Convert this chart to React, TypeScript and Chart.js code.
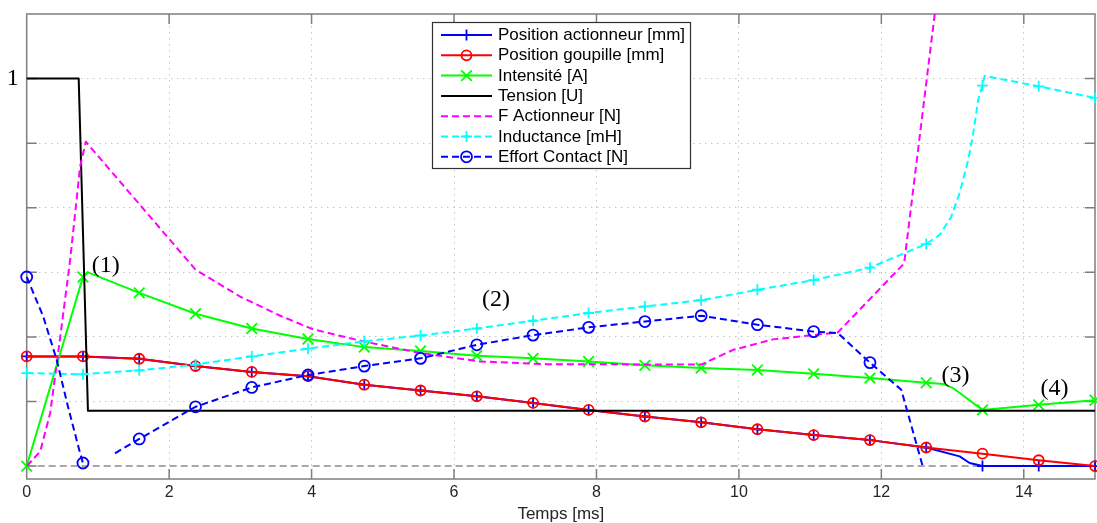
import React, { useEffect, useRef } from 'react';
import { Chart, registerables } from 'chart.js';

Chart.register(...registerables);

// ---------- data (time in ms, values normalised: label "1" = top grid line) ----------
const markerTimes = [0, 0.79, 1.58, 2.37, 3.16, 3.95, 4.74, 5.53, 6.32, 7.11, 7.89, 8.68, 9.47, 10.26, 11.05, 11.84, 12.63, 13.42, 14.21, 15];

const xTickValues = [0, 2, 4, 6, 8, 10, 12, 14];
const yTickValues = [0, 1 / 6, 2 / 6, 3 / 6, 4 / 6, 5 / 6, 1];
const yLabelValue = 1;
const yLabelText = '1';
const xTitle = 'Temps [ms]';

const posActT = [0, 0.79, 1.58, 2.37, 3.16, 3.95, 4.74, 5.53, 6.32, 7.11, 7.89, 8.68, 9.47, 10.26, 11.05, 11.84, 12.63, 13.1, 13.24, 13.42, 14.21, 15];
const posActV = [0.283, 0.283, 0.277, 0.258, 0.243, 0.232, 0.21, 0.195, 0.18, 0.163, 0.145, 0.128, 0.113, 0.095, 0.08, 0.067, 0.048, 0.025, 0.008, 0, 0, 0];

const posGoupT = [0, 0.79, 1.58, 2.37, 3.16, 3.95, 4.74, 5.53, 6.32, 7.11, 7.89, 8.68, 9.47, 10.26, 11.05, 11.84, 12.63, 13.42, 14.21, 15];
const posGoupV = [0.283, 0.283, 0.277, 0.258, 0.243, 0.232, 0.21, 0.195, 0.18, 0.163, 0.145, 0.128, 0.113, 0.095, 0.08, 0.067, 0.048, 0.032, 0.015, 0];

const intensiteT = [0, 0.79, 0.86, 1.58, 2.37, 3.16, 3.95, 4.74, 5.53, 6.32, 7.11, 7.89, 8.68, 9.47, 10.26, 11.05, 11.84, 12.63, 12.87, 13.0, 13.2, 13.42, 14.21, 15];
const intensiteV = [0, 0.488, 0.5, 0.447, 0.393, 0.355, 0.328, 0.307, 0.297, 0.285, 0.278, 0.27, 0.26, 0.253, 0.248, 0.238, 0.227, 0.215, 0.212, 0.202, 0.175, 0.145, 0.158, 0.17];

const tensionT = [0, 0.73, 0.86, 15];
const tensionV = [1, 1, 0.143, 0.143];

const fActT = [0, 0.19, 0.33, 0.43, 0.61, 0.75, 0.83, 2.37, 3.0, 3.56, 4.02, 4.72, 5.52, 6.36, 7.3, 9.47, 9.92, 10.48, 11.04, 11.39, 12.32, 12.85];
const fActV = [0, 0.038, 0.137, 0.275, 0.532, 0.773, 0.837, 0.507, 0.437, 0.388, 0.353, 0.322, 0.292, 0.27, 0.263, 0.262, 0.3, 0.327, 0.338, 0.345, 0.523, 1.317];

const inductT = [0, 0.79, 1.58, 2.37, 3.16, 3.95, 4.74, 5.53, 6.32, 7.11, 7.89, 8.68, 9.47, 10.26, 11.05, 11.84, 12.63, 12.82, 12.98, 13.1, 13.22, 13.29, 13.36, 13.42, 13.45, 14.21, 15];
const inductV = [0.24, 0.237, 0.247, 0.262, 0.283, 0.303, 0.322, 0.337, 0.355, 0.375, 0.395, 0.412, 0.428, 0.455, 0.48, 0.512, 0.573, 0.597, 0.643, 0.705, 0.79, 0.858, 0.945, 0.982, 1.007, 0.98, 0.95];

const effortT = [0, 0.23, 0.42, 0.58, 0.75, 0.79, 1.0, 1.24, 1.58, 2.37, 3.16, 3.95, 4.74, 5.53, 6.32, 7.11, 7.89, 8.68, 9.47, 10.26, 11.05, 11.39, 11.84, 12.28, 12.58];
const effortV = [0.488, 0.387, 0.275, 0.153, 0.033, 0.008, null, 0.033, 0.07, 0.153, 0.203, 0.235, 0.258, 0.278, 0.313, 0.338, 0.358, 0.373, 0.388, 0.365, 0.347, 0.343, 0.267, 0.197, 0];

const zeroT = [0, 15];
const zeroV = [0, 0];

const seriesLabels = ['Position actionneur [mm]', 'Position goupille [mm]', 'Intensité [A]', 'Tension [U]', 'F Actionneur [N]', 'Inductance [mH]', 'Effort Contact [N]'];

const annotTexts = ['(1)', '(2)', '(3)', '(4)'];
const annotT = [1.11, 6.59, 13.04, 14.43];
const annotV = [0.517, 0.43, 0.233, 0.2];

// ---------- helpers ----------
const SANS = "'Liberation Sans', Arial, Helvetica, sans-serif";
const SERIF = "'Liberation Serif', 'Times New Roman', Times, serif";

function pts(t: number[], v: (number | null)[]) {
  return t.map((x, i) => ({ x, y: v[i] }));
}

type Style = {
  color: string;
  dash: number[];
  marker: 'cross' | 'crossRot' | 'circle' | null;
  r: number;
};

const styles: Style[] = [
  { color: '#0000ff', dash: [], marker: 'cross', r: 5.5 },
  { color: '#ff0000', dash: [], marker: 'circle', r: 5 },
  { color: '#00ff00', dash: [], marker: 'crossRot', r: 7.5 },
  { color: '#000000', dash: [], marker: null, r: 0 },
  { color: '#ff00ff', dash: [7, 4], marker: null, r: 0 },
  { color: '#00ffff', dash: [7, 4], marker: 'cross', r: 5.5 },
  { color: '#0000ff', dash: [7, 4], marker: 'circle', r: 5.5 },
];

const seriesData = [
  pts(posActT, posActV),
  pts(posGoupT, posGoupV),
  pts(intensiteT, intensiteV),
  pts(tensionT, tensionV),
  pts(fActT, fActV),
  pts(inductT, inductV),
  pts(effortT, effortV),
];

function drawMarker(ctx: CanvasRenderingContext2D, s: Style, x: number, y: number) {
  if (!s.marker) return;
  ctx.save();
  ctx.setLineDash([]);
  ctx.strokeStyle = s.color;
  ctx.lineWidth = 1.8;
  ctx.beginPath();
  if (s.marker === 'cross') {
    ctx.moveTo(x - s.r, y);
    ctx.lineTo(x + s.r, y);
    ctx.moveTo(x, y - s.r);
    ctx.lineTo(x, y + s.r);
  } else if (s.marker === 'crossRot') {
    const d = s.r * Math.SQRT1_2;
    ctx.moveTo(x - d, y - d);
    ctx.lineTo(x + d, y + d);
    ctx.moveTo(x - d, y + d);
    ctx.lineTo(x + d, y - d);
  } else {
    ctx.arc(x, y, s.r, 0, Math.PI * 2);
  }
  ctx.stroke();
  ctx.restore();
}

const framePlugin = {
  id: 'matlabFrame',
  beforeDatasetsDraw(chart: any) {
    const { ctx, chartArea: a, scales } = chart;
    ctx.save();
    ctx.strokeStyle = '#7f7f7f';
    ctx.lineWidth = 1.5;
    ctx.setLineDash([]);
    ctx.strokeRect(a.left, a.top, a.right - a.left, a.bottom - a.top);
    ctx.beginPath();
    for (const v of xTickValues) {
      if (v === 0) continue;
      const px = scales.x.getPixelForValue(v);
      ctx.moveTo(px, a.bottom);
      ctx.lineTo(px, a.bottom - 10);
      ctx.moveTo(px, a.top);
      ctx.lineTo(px, a.top + 10);
    }
    for (const v of yTickValues) {
      const py = scales.y.getPixelForValue(v);
      ctx.moveTo(a.left, py);
      ctx.lineTo(a.left + 10, py);
      ctx.moveTo(a.right, py);
      ctx.lineTo(a.right - 10, py);
    }
    ctx.stroke();
    ctx.restore();
  },
};

const annotationPlugin = {
  id: 'annotTexts',
  afterDatasetsDraw(chart: any) {
    const { ctx, scales } = chart;
    ctx.save();
    ctx.fillStyle = '#000';
    ctx.font = `24px ${SERIF}`;
    ctx.textAlign = 'center';
    ctx.textBaseline = 'middle';
    annotTexts.forEach((t, i) => {
      ctx.fillText(t, scales.x.getPixelForValue(annotT[i]), scales.y.getPixelForValue(annotV[i]));
    });
    ctx.restore();
  },
};

const legendPlugin = {
  id: 'boxLegend',
  afterDraw(chart: any) {
    const ctx: CanvasRenderingContext2D = chart.ctx;
    const left = 432, top = 22, w = 258, h = 146;
    ctx.save();
    ctx.fillStyle = '#ffffff';
    ctx.fillRect(left, top, w, h);
    ctx.strokeStyle = '#303030';
    ctx.lineWidth = 1.2;
    ctx.setLineDash([]);
    ctx.strokeRect(left + 0.5, top + 0.5, w, h);
    ctx.font = `17px ${SANS}`;
    ctx.textAlign = 'left';
    ctx.textBaseline = 'middle';
    seriesLabels.forEach((label, i) => {
      const s = styles[i];
      const y = 35 + i * 20.3;
      ctx.save();
      ctx.strokeStyle = s.color;
      ctx.lineWidth = 2;
      ctx.setLineDash(s.dash);
      ctx.beginPath();
      ctx.moveTo(441, y);
      ctx.lineTo(492, y);
      ctx.stroke();
      ctx.restore();
      drawMarker(ctx, s, 466.5, y);
      ctx.fillStyle = '#000';
      ctx.fillText(label, 498, y + 0.5);
    });
    ctx.restore();
  },
};

function zeroScalePadding(s: any) {
  s.paddingTop = 0;
  s.paddingBottom = 0;
  s.paddingLeft = 0;
  s.paddingRight = 0;
}

export default function App() {
  const ref = useRef<HTMLCanvasElement>(null);

  useEffect(() => {
    document.body.style.margin = '0';
    const gridColor = (c: any) => (c.tick && Math.abs(c.tick.value) < 1e-9 ? 'rgba(0,0,0,0)' : '#c4c4c4');

    const datasets: any[] = seriesData.map((data, i) => {
      const s = styles[i];
      return {
        label: seriesLabels[i],
        data,
        borderColor: s.color,
        backgroundColor: s.color,
        borderWidth: 2,
        borderDash: s.dash,
        borderJoinStyle: 'round',
        fill: false,
        tension: 0,
        spanGaps: false,
        order: 10 - i,
        clip: i === 4 ? { left: 0, top: 0, right: 0, bottom: 0 } : false,
        pointStyle: s.marker === 'crossRot' ? 'crossRot' : s.marker === 'cross' ? 'cross' : 'circle',
        pointBorderColor: s.color,
        pointBackgroundColor: 'rgba(0,0,0,0)',
        pointBorderWidth: 1.8,
        pointRadius: (c: any) =>
          s.marker && c.raw && markerTimes.includes(c.raw.x) && c.raw.y !== null ? s.r : 0,
        pointHoverRadius: 0,
      };
    });
    datasets.push({
      label: 'zero',
      data: pts(zeroT, zeroV),
      borderColor: '#8c8c8c',
      borderWidth: 1.5,
      borderDash: [7, 4],
      pointRadius: 0,
      order: 100,
      clip: false,
    });

    const chart = new Chart(ref.current as HTMLCanvasElement, {
      type: 'line',
      data: { datasets },
      options: {
        animation: false,
        responsive: false,
        events: [],
        layout: { autoPadding: false, padding: { top: 14, right: 2, left: 0, bottom: 0 } },
        plugins: {
          legend: { display: false },
          tooltip: { enabled: false },
        },
        scales: {
          x: {
            type: 'linear',
            min: 0,
            max: 15,
            afterBuildTicks: (s: any) => {
              s.ticks = xTickValues.map((v) => ({ value: v }));
            },
            afterFit: (s: any) => {
              s.height = 44;
              zeroScalePadding(s);
            },
            grid: { color: gridColor, lineWidth: 1, drawTicks: false },
            border: { display: false, dash: [1.5, 4.5] },
            ticks: {
              padding: 4,
              color: '#262626',
              font: { family: SANS, size: 16 },
              maxRotation: 0,
              autoSkip: false,
              callback: (v: any) => String(v),
            },
            title: {
              display: true,
              text: xTitle,
              color: '#262626',
              font: { family: SANS, size: 17, lineHeight: 1 },
              padding: { top: 0, bottom: 0 },
            },
          },
          y: {
            type: 'linear',
            min: -0.2 / 6,
            max: 7 / 6,
            afterBuildTicks: (s: any) => {
              s.ticks = yTickValues.map((v) => ({ value: v }));
            },
            afterFit: (s: any) => {
              s.width = 26.7;
              zeroScalePadding(s);
            },
            grid: { color: gridColor, lineWidth: 1, drawTicks: false },
            border: { display: false, dash: [1.5, 4.5] },
            ticks: {
              padding: 8,
              color: '#000',
              font: { family: SERIF, size: 24 },
              autoSkip: false,
              callback: (v: any) => (Math.abs(Number(v) - yLabelValue) < 1e-9 ? yLabelText : ''),
            },
          },
        },
      } as any,
      plugins: [framePlugin, annotationPlugin, legendPlugin],
    });
    return () => chart.destroy();
  }, []);

  return (
    <div style={{ position: 'absolute', left: 0, top: 0, width: 1097, height: 523 }}>
      <canvas ref={ref} width={1097} height={523} style={{ display: 'block', width: 1097, height: 523 }} />
    </div>
  );
}
